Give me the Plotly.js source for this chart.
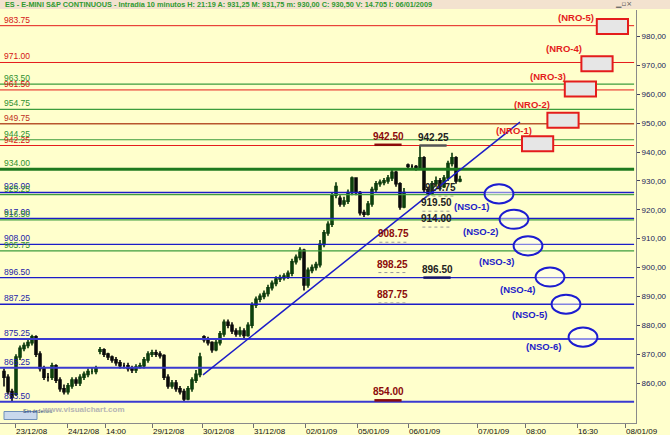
<!DOCTYPE html>
<html><head><meta charset="utf-8">
<script src="https://cdn.plot.ly/plotly-3.0.1.min.js"></script>
<style>html,body{margin:0;padding:0;background:#FFFFCC;}#chart{width:670px;height:435px;}</style>
</head><body><div id="chart"></div>
<script>
// ---- price data (10-minute bars, bar index) ----
const openP = [864,862,857,856,869,872,873,874,876,870,865,862,862,866,861,858,857,859,861,860,862,863,864,864,
871,871.5,870,869,868,867,866,866,865,864.5,865.5,866,868,870,870.5,870,869.5,862,859,860,858,857,854.5,858,861,863,
876,875,874,871.5,874,877,881,880,878,877,878,876.5,880,887,889,890,891,893,894.5,896,896.5,897,898,902,903.5,906,894,899,900,901,908,912,915,925,
924,922,923,926,931,926,919,918.5,922,927,929,929.5,930,931,933,929,921,
935.5,935,935,934.5,938,927,925.5,929,930,928,931,936,938,930];
const highP = [865,863,858,870,873,874,875.5,876.75,876.5,871,866,863.5,867,866.5,862,859.5,860,862,862,863,864,865,865.5,866,
872.5,872,870.5,869.5,869,868,867,867,866,866.5,867,869,871,871.5,871.5,871,870,863,861,861,859,858,859,862,864.5,870.5,
876.5,876,874.5,875,878,882,882,881,879,879.5,879,881,888,890,891,892,894,895.5,897,897.5,898,899,903,904.5,907,906.5,900,901,902,909.5,913,916,926,929.5,
925,924.5,927,931.5,931,926.5,920,923,928,930,930.5,931,932,934,933.5,929.5,927.5,
936,935.75,935.5,942.25,938.5,928,930,931.5,931,932,937,939.75,938.5,931.75];
const lowP = [858.75,856,853.5,855.5,868,871,872,873,869,864,861,860.5,861,860,857,856,856,858,859,859,861,862,863,863,
870,869,868,867,866,865,865,864,863.5,863.5,865,865,867,869,869,868.5,861,858,858,857,856,853.5,854,857,860,862,
874,873,870.5,871,873,876,879,877,876,876,875.5,876,879,886,888,889,890,892,893.5,895,895.5,896,897,901,902.5,892,893,898,899,900,907,911,914,924,
921,921,922,925,925,918,917.5,918,921,926,928,928.5,929,930,928,920,920.5,
934,934,933.5,934,926,924.75,925,928,927,927.5,930,935,929,929.5];
const closeP = [862,857,855,869,872,873,874,876,870,865,862,862,866,861,858,857,859,861,860,862,863,864,864,865,
871.5,870,869,868,867,866,866,865,864.5,865.5,866,868,870,870.5,870,869.5,862,859,860,858,857,854.5,858,861,863,869,
875,874,871.5,874,877,881,880,878,877,878,876.5,880,887,889,890,891,893,894.5,896,896.5,897,898,902,903.5,906,894,899,900,901,908,912,915,925,928,
922,923,926,931,926,919,918.5,922,927,929,929.5,930,931,933,929,921,926,
935,935,934.5,938,927,925.5,929,930,928,931,936,938,930,930.5];

// ---- time axis ----
const tickPos  = [3.75,16.75,26.25,38,50.5,63.25,76.25,89.25,102,119.25,131.25,144.25,156.25];
const tickText = ['23/12/08','24/12/08','14:00','29/12/08','30/12/08','31/12/08','02/01/09','05/01/09','06/01/09','07/01/09','08:00','16:30','08/01/09'];
const priceTicks = [860,870,880,890,900,910,920,930,940,950,960,970,980,990];

// ---- horizontal levels ----
const levelValues = [983.75,971.00,963.50,961.50,954.75,949.75,944.25,942.25,934.00,926.00,925.25,917.00,916.50,908.00,905.75,896.50,887.25,875.25,865.25,853.50];
const levelKind   = ['r','r','g','r','g','s','g','r','G','b','g','b','g','b','g','b','b','B','B','B'];

// ---- trendline (bar index, price) ----
const trendX = [50.75,130];
const trendY = [862.8,950.4];

// ---- resistance boxes ----
const nroText = ['(NRO-1)','(NRO-2)','(NRO-3)','(NRO-4)','(NRO-5)'];
const nroBoxX = [134.4,140.75,145.1,149.25,153.1];
const nroBoxY = [942.9,951.0,961.8,970.6,983.5];
const nroLblX = [128.5,133.1,136.9,141.1,144.1];
const nroLblY = [947.6,956.3,966.3,975.7,986.75];

// ---- support ellipses ----
const nsoText = ['(NSO-1)','(NSO-2)','(NSO-3)','(NSO-4)','(NSO-5)','(NSO-6)'];
const nsoX = [124.75,128.5,132,137.5,141.5,145.75];
const nsoY = [925.5,916.7,907.5,896.7,887.3,875.9];
const nsoLblX = [117.9,120,124,129.25,132.4,135.9];
const nsoLblY = [921.3,912.3,902.25,892.55,883.9,872.8];

// ---- pivot marks ----
const pivotVal = [942.50,942.25,924.75,919.50,914.00,908.75,898.25,896.50,887.75,854.00];
const pivotX   = [97,108.25,110,109,109,98.25,98,109.25,98,97];
const pivotKind= ['hs','ls','l','ld','ld','hd','hd','lb','hd','hs'];

const header = 'ES - E-MINI S&P CONTINUOUS - Intradía 10 minutos H: 21:19 A: 931,25 M: 931,75 m: 930,00 C: 930,50 V: 14.705 I: 06/01/2009';

// ---------- styles ----------
const LC = {r:'#e41c1c', g:'#3c9c3c', s:'#b8562e', G:'#1f7a1f', b:'#1c1cc8', B:'#3a3ad0'};
const LW = {r:1, g:1.2, s:1.5, G:3, b:1.4, B:2};
const TC = {r:'#d41414', g:'#2f8f2f', s:'#c0301c', G:'#2f8f2f', b:'#1c1ca8', B:'#1c1ca8'};

const xIdx = closeP.map((_, i) => i + 1);

const traces = [{
  type:'candlestick', x:xIdx, open:openP, high:highP, low:lowP, close:closeP,
  increasing:{line:{color:'#0b3a0b', width:1.6}, fillcolor:'#136b13'},
  decreasing:{line:{color:'#0a0a0a', width:1.6}, fillcolor:'#0a0a0a'},
  whiskerwidth:0, hoverinfo:'skip', showlegend:false
}];

const shapes = [];
const annotations = [];
const PH = 413; // plot height px
const py = p => (423 - p) / PH; // paper y from page px
const px = p => p / 636;

// header bar
shapes.push({type:'rect', xref:'paper', yref:'paper', x0:0, x1:1.06, y0:py(9), y1:py(0), fillcolor:'#f3e2cf', line:{width:0}});
annotations.push({xref:'paper', yref:'paper', x:px(3), y:py(4.5), xanchor:'left', yanchor:'middle', text:header, showarrow:false,
  font:{family:'Arial, Liberation Sans', size:7.3, color:'#2f9a2f', weight:'bold'}});
// window buttons
annotations.push({xref:'paper', yref:'paper', x:px(634), y:py(4), xanchor:'right', yanchor:'middle', text:'▁▫×', showarrow:false,
  font:{family:'DejaVu Sans', size:7, color:'#555555'}});

levelValues.forEach((v, i) => {
  const k = levelKind[i];
  shapes.push({type:'line', xref:'paper', yref:'y', x0:0, x1:0.997, y0:v, y1:v, line:{color:LC[k], width:LW[k]}});
  annotations.push({xref:'paper', yref:'y', x:px(2), y:v, xanchor:'left', yanchor:'bottom', yshift:-1,
    text:v.toFixed(2), showarrow:false, font:{family:'Arial, Liberation Sans', size:8.5, color:TC[k]}});
});

shapes.push({type:'line', xref:'x', yref:'y', x0:trendX[0], y0:trendY[0], x1:trendX[1], y1:trendY[1], line:{color:'#1c1cc8', width:1.5}});

nroText.forEach((t, i) => {
  shapes.push({type:'rect', xref:'x', yref:'y', x0:nroBoxX[i]-3.9, x1:nroBoxX[i]+3.9, y0:nroBoxY[i]-2.6, y1:nroBoxY[i]+2.6,
    fillcolor:'#e6e6e6', line:{color:'#e41c1c', width:2}});
  annotations.push({xref:'x', yref:'y', x:nroLblX[i], y:nroLblY[i], text:t, showarrow:false,
    font:{family:'Arial, Liberation Sans', size:9.5, color:'#e41c1c', weight:'bold'}});
});

nsoText.forEach((t, i) => {
  shapes.push({type:'circle', xref:'x', yref:'y', x0:nsoX[i]-3.6, x1:nsoX[i]+3.6, y0:nsoY[i]-3.3, y1:nsoY[i]+3.3,
    fillcolor:'rgba(255,255,255,0.45)', line:{color:'#1c1cd0', width:2}});
  annotations.push({xref:'x', yref:'y', x:nsoLblX[i], y:nsoLblY[i], text:t, showarrow:false,
    font:{family:'Arial, Liberation Sans', size:9.5, color:'#1c1cc8', weight:'bold'}});
});

const PK = {
  hs:{tc:'#8b0a0a', lc:'#8b0a0a', dash:'solid', w:2.5},
  ls:{tc:'#222222', lc:'#555555', dash:'solid', w:2.5},
  l:{tc:'#222222', lc:'#999999', dash:'dot', w:1},
  ld:{tc:'#222222', lc:'#999999', dash:'dot', w:1},
  hd:{tc:'#8b0a0a', lc:'#999999', dash:'dot', w:1},
  lb:{tc:'#222222', lc:'#10106a', dash:'solid', w:2.5}
};
pivotVal.forEach((v, i) => {
  const s = PK[pivotKind[i]];
  shapes.push({type:'line', xref:'x', yref:'y', x0:pivotX[i]-3.4, x1:pivotX[i]+3.4, y0:v, y1:v, line:{color:s.lc, width:s.w, dash:s.dash}});
  annotations.push({xref:'x', yref:'y', x:pivotX[i], y:v, yanchor:'bottom', yshift:1, text:v.toFixed(2), showarrow:false,
    font:{family:'Arial, Liberation Sans', size:10, color:s.tc, weight:'bold'}});
});

// bottom-left widgets
shapes.push({type:'rect', xref:'paper', yref:'paper', x0:px(4), x1:px(37), y0:py(419.5), y1:py(411.5), fillcolor:'#c9d8ec', line:{color:'#6f8fb8', width:1}});
annotations.push({xref:'paper', yref:'paper', x:px(20.5), y:py(415.5), text:'Sin órdenes', showarrow:false,
  font:{family:'Arial, Liberation Sans', size:5.5, color:'#1a3a7a'}});
annotations.push({xref:'paper', yref:'paper', x:px(40), y:py(415.5), xanchor:'left', text:'www.visualchart.com', showarrow:false,
  font:{family:'Arial, Liberation Sans', size:8, color:'#b4b4b4', weight:'bold'}});

const layout = {
  width:670, height:435,
  margin:{l:0, r:34, t:10, b:12, pad:0},
  paper_bgcolor:'#FFFFCC', plot_bgcolor:'#FFFFCC',
  showlegend:false,
  xaxis:{range:[0,159], rangeslider:{visible:false}, tickvals:tickPos, ticktext:tickText,
    ticks:'outside', ticklen:4, tickcolor:'#707070', showgrid:false, zeroline:false,
    showline:true, linecolor:'#8a8a8a', linewidth:1, ticklabelposition:'outside right',
    tickfont:{family:'Arial, Liberation Sans', size:8, color:'#111111'}, automargin:false, fixedrange:true},
  yaxis:{side:'right', range:[846.15,989.18], tickvals:priceTicks, ticktext:priceTicks.map(v => v.toFixed(2).replace('.', ',')),
    ticks:'outside', ticklen:3, tickcolor:'#404060', showgrid:false, zeroline:false,
    showline:true, linecolor:'#8a8a8a', linewidth:1,
    tickfont:{family:'Arial, Liberation Sans', size:8, color:'#23235a'}, automargin:false, fixedrange:true},
  shapes:shapes, annotations:annotations
};

Plotly.newPlot('chart', traces, layout, {displayModeBar:false, staticPlot:true});
</script>
</body></html>
